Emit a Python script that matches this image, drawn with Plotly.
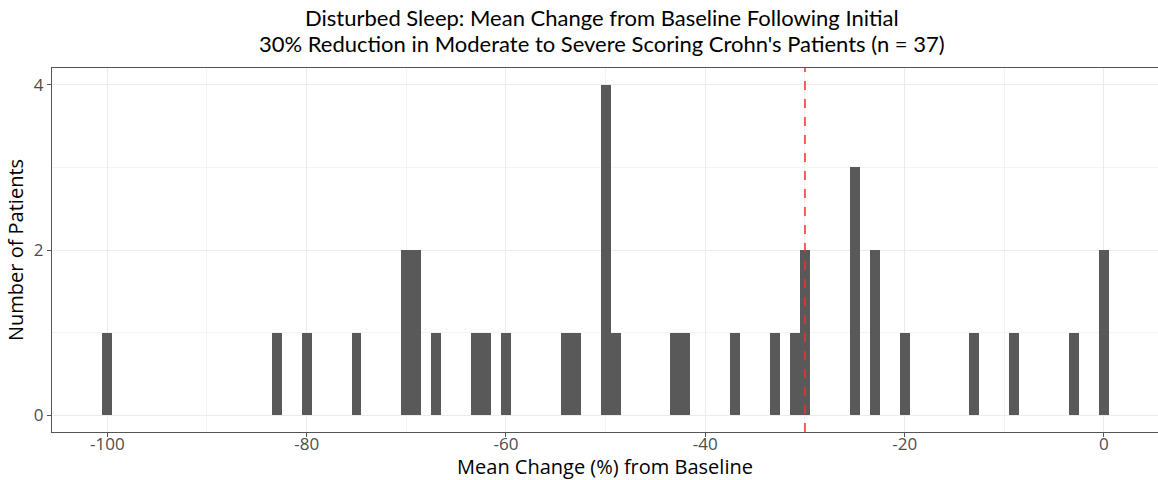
import plotly.graph_objects as go

# Histogram bins (1% wide) and patient counts
bin_centers = [-100, -83, -80, -75, -70, -69, -67, -63, -62, -60, -54, -53, -50, -49,
               -43, -42, -37, -33, -31, -30, -25, -23, -20, -13, -9, -3, 0]
counts = [1, 1, 1, 1, 2, 2, 1, 1, 1, 1, 1, 1, 4, 1,
          1, 1, 1, 1, 1, 2, 3, 2, 1, 1, 1, 1, 2]
threshold = -30
x_ticks = [-100, -80, -60, -40, -20, 0]
x_minor = [-90, -70, -50, -30, -10]
y_ticks = [0, 2, 4]
y_minor = [1, 3]

title_line1 = "Disturbed Sleep: Mean Change from Baseline Following Initial"
title_line2 = "30% Reduction in Moderate to Severe Scoring Crohn's Patients (n = 37)"

W, H = 1158, 480
T, B = 68, 48


def paper_y(py):
    return (H - B - py) / (H - T - B)


fig = go.Figure()
fig.add_trace(go.Bar(x=bin_centers, y=counts, width=1,
                     marker=dict(color="#595959", line=dict(width=0)),
                     showlegend=False))

fig.add_shape(type="line", x0=threshold, x1=threshold, xref="x",
              y0=0, y1=1, yref="paper",
              line=dict(color="#FF2A2A", width=1.5, dash="dash"))

title_font = dict(family="Lato", size=22, color="black")
for txt, py in [(title_line1, 17), (title_line2, 43)]:
    fig.add_annotation(text=txt, xref="paper", x=0.497, xanchor="center",
                       yref="paper", y=paper_y(py), yanchor="middle",
                       showarrow=False, font=title_font)

axis_font = dict(family="Open Sans", size=17, color="#4d4d4d")
fig.update_layout(
    width=W, height=H,
    margin=dict(l=52, r=0, t=T, b=B),
    paper_bgcolor="white", plot_bgcolor="white",
    bargap=0,
    xaxis=dict(range=[-105.55, 5.42], tickvals=x_ticks, ticktext=[str(v) for v in x_ticks],
               tickfont=axis_font, ticks="outside", ticklen=4, tickcolor="#555555",
               ticklabelstandoff=-8,
               showline=True, linecolor="#555555", linewidth=1.4, mirror=True,
               showgrid=True, gridcolor="#EBEBEB", gridwidth=1.2,
               minor=dict(tickvals=x_minor, showgrid=True,
                          gridcolor="#F3F3F3", gridwidth=0.8),
               zeroline=False,
               title=dict(text="Mean Change (%) from Baseline", standoff=2,
                          font=dict(family="Open Sans", size=20, color="black"))),
    yaxis=dict(range=[-0.2, 4.2], tickvals=y_ticks, ticktext=[str(v) for v in y_ticks],
               tickfont=axis_font, ticks="outside", ticklen=4, tickcolor="#555555",
               showline=True, linecolor="#555555", linewidth=1.4, mirror=False,
               showgrid=True, gridcolor="#EBEBEB", gridwidth=1.2,
               minor=dict(tickvals=y_minor, showgrid=True, gridcolor="#F3F3F3", gridwidth=0.8),
               zeroline=False,
               title=dict(text="Number of Patients", standoff=4,
                          font=dict(family="Open Sans", size=20, color="black"))),
)

fig.write_html("out.html", config={"displayModeBar": False},
               post_script="document.body.style.margin='0';document.body.style.overflow='hidden';")
